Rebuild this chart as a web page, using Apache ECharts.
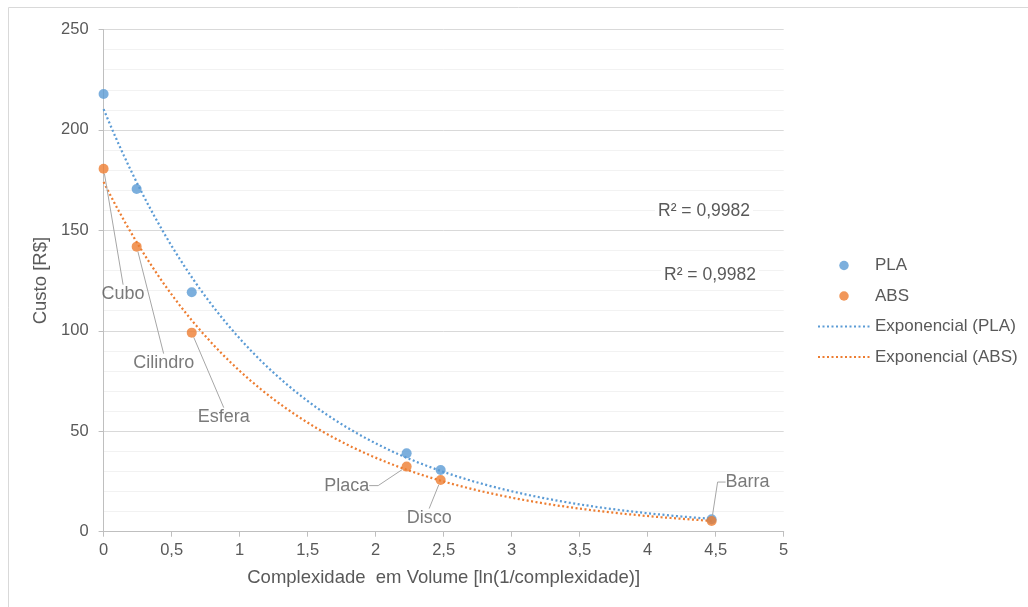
<!DOCTYPE html>
<html>
<head>
<meta charset="utf-8">
<script src="https://cdn.jsdelivr.net/npm/echarts@6/dist/echarts.min.js"></script>
<style>
  html, body { margin: 0; padding: 0; background: #fff; }
  #main { width: 1028px; height: 607px; }
</style>
</head>
<body>
<div id="main"></div>
<script>
// valores
const shapes = ['Cubo', 'Cilindro', 'Esfera', 'Placa', 'Disco', 'Barra'];
const complexity = [0, 0.243, 0.648, 2.228, 2.478, 4.47];
const costPLA = [217.9, 170.6, 119.2, 39.0, 30.7, 6.2];
const costABS = [180.7, 141.9, 99.1, 32.4, 25.7, 5.3];
const rSquared = ['R² = 0,9982', 'R² = 0,9982'];

const seriesNames = ['PLA', 'ABS', 'Exponencial (PLA)', 'Exponencial (ABS)'];
const blue = '#5b9bd5';
const orange = '#ed7d31';
const textColor = '#595959';
const font = '"Liberation Sans", Arial, sans-serif';

// deslocamento dos rótulos (px) em relação ao ponto ABS, e trecho horizontal da guia
const labelOffsets = [[19.5, 125], [27, 116], [32, 84], [-60, 19], [-11.5, 37.5], [36, -39]];
const guideBend = [0, 0, 0, 9, 0, 8];

// linha de tendência exponencial (mínimos quadrados sobre ln y, como no Excel)
function expFit(xs, ys) {
    const n = xs.length;
    let sx = 0, sy = 0, sxx = 0, sxy = 0;
    for (let i = 0; i < n; i++) {
        const ly = Math.log(ys[i]);
        sx += xs[i]; sy += ly; sxx += xs[i] * xs[i]; sxy += xs[i] * ly;
    }
    const b = (n * sxy - sx * sy) / (n * sxx - sx * sx);
    const a = Math.exp((sy - b * sx) / n);
    return { a: a, b: b };
}
function trendPoints(xs, ys) {
    const f = expFit(xs, ys);
    const x0 = Math.min(...xs), x1 = Math.max(...xs);
    const pts = [];
    for (let i = 0; i <= 120; i++) {
        const x = x0 + (x1 - x0) * i / 120;
        pts.push([x, f.a * Math.exp(f.b * x)]);
    }
    return pts;
}

const plaData = complexity.map((x, i) => [x, costPLA[i]]);
const absData = complexity.map((x, i) => ({
    name: shapes[i],
    value: [x, costABS[i]],
    labelLine: { length2: guideBend[i] }
}));

const noSymbol = { color: 'rgba(0,0,0,0)', borderWidth: 0, borderColor: 'rgba(0,0,0,0)' };

var myChart = echarts.init(document.getElementById('main'));
var option = {
    animation: false,
    textStyle: { fontFamily: font },
    grid: { left: 103.6, right: 244.3, top: 29.5, bottom: 75.3, containLabel: false, outerBoundsMode: 'none' },
    legend: {
        orient: 'vertical',
        left: 817,
        top: 257,
        padding: 0,
        itemWidth: 52,
        itemHeight: 9.5,
        itemGap: 13.5,
        textStyle: { color: textColor, fontSize: 17, fontFamily: font },
        data: [
            { name: seriesNames[0], icon: 'circle' },
            { name: seriesNames[1], icon: 'circle' },
            { name: seriesNames[2], itemStyle: noSymbol },
            { name: seriesNames[3], itemStyle: noSymbol }
        ]
    },
    xAxis: {
        type: 'value',
        min: 0,
        max: 5,
        interval: 0.5,
        name: 'Complexidade  em Volume [ln(1/complexidade)]',
        nameLocation: 'middle',
        nameGap: 37,
        nameTextStyle: { color: textColor, fontSize: 18.5, fontFamily: font },
        axisLine: { show: true, lineStyle: { color: '#bfbfbf', width: 1 } },
        axisTick: { show: true, length: 5, lineStyle: { color: '#bfbfbf' } },
        axisLabel: {
            color: textColor, fontSize: 16.5, margin: 10,
            formatter: v => String(v).replace('.', ',')
        },
        splitLine: { show: false }
    },
    yAxis: {
        type: 'value',
        min: 0,
        max: 250,
        interval: 50,
        name: 'Custo [R$]',
        nameLocation: 'middle',
        nameGap: 46,
        nameTextStyle: { color: textColor, fontSize: 18.5, fontFamily: font },
        axisLine: { show: true, lineStyle: { color: '#bfbfbf', width: 1 } },
        axisTick: { show: true, length: 5, lineStyle: { color: '#bfbfbf' } },
        axisLabel: { color: textColor, fontSize: 16.5, margin: 15 },
        splitLine: { show: true, lineStyle: { color: '#d9d9d9', width: 1 } },
        minorTick: { show: false, splitNumber: 5 },
        minorSplitLine: { show: true, lineStyle: { color: '#f2f2f2', width: 1 } }
    },
    graphic: [
        {
            type: 'rect', silent: true, z: -10,
            shape: { x: 8.5, y: 7.5, width: 1100, height: 700 },
            style: { fill: 'none', stroke: '#d9d9d9', lineWidth: 1 }
        },
        {
            type: 'text', x: 704, y: 211.5, z: 10,
            style: {
                text: rSquared[0], fill: textColor, font: '17.5px ' + font,
                align: 'center', verticalAlign: 'middle',
                backgroundColor: '#fff', padding: [1, 3]
            }
        },
        {
            type: 'text', x: 710, y: 275.5, z: 10,
            style: {
                text: rSquared[1], fill: textColor, font: '17.5px ' + font,
                align: 'center', verticalAlign: 'middle',
                backgroundColor: '#fff', padding: [1, 3]
            }
        }
    ],
    series: [
        {
            name: seriesNames[2],
            type: 'line',
            data: trendPoints(complexity, costPLA),
            symbol: 'none',
            showSymbol: false,
            z: 2,
            lineStyle: { color: blue, width: 2.25, type: [2, 2.5] },
            itemStyle: { color: blue }
        },
        {
            name: seriesNames[3],
            type: 'line',
            data: trendPoints(complexity, costABS),
            symbol: 'none',
            showSymbol: false,
            z: 2,
            lineStyle: { color: orange, width: 2.25, type: [2, 2.5] },
            itemStyle: { color: orange }
        },
        {
            name: seriesNames[0],
            type: 'scatter',
            data: plaData,
            symbolSize: 10,
            z: 4,
            itemStyle: { color: blue }
        },
        {
            name: seriesNames[1],
            type: 'scatter',
            data: absData,
            symbolSize: 10,
            z: 5,
            itemStyle: { color: orange },
            label: {
                show: true,
                position: 'inside',
                formatter: '{b}',
                color: textColor,
                fontSize: 18,
                fontFamily: font
            },
            labelLine: {
                show: true,
                length2: 0,
                lineStyle: { color: '#a6a6a6', width: 1 }
            },
            labelLayout: function (params) {
                const off = labelOffsets[params.dataIndex];
                return { dx: off[0], dy: off[1] };
            }
        }
    ]
};
myChart.setOption(option);
</script>
</body>
</html>
